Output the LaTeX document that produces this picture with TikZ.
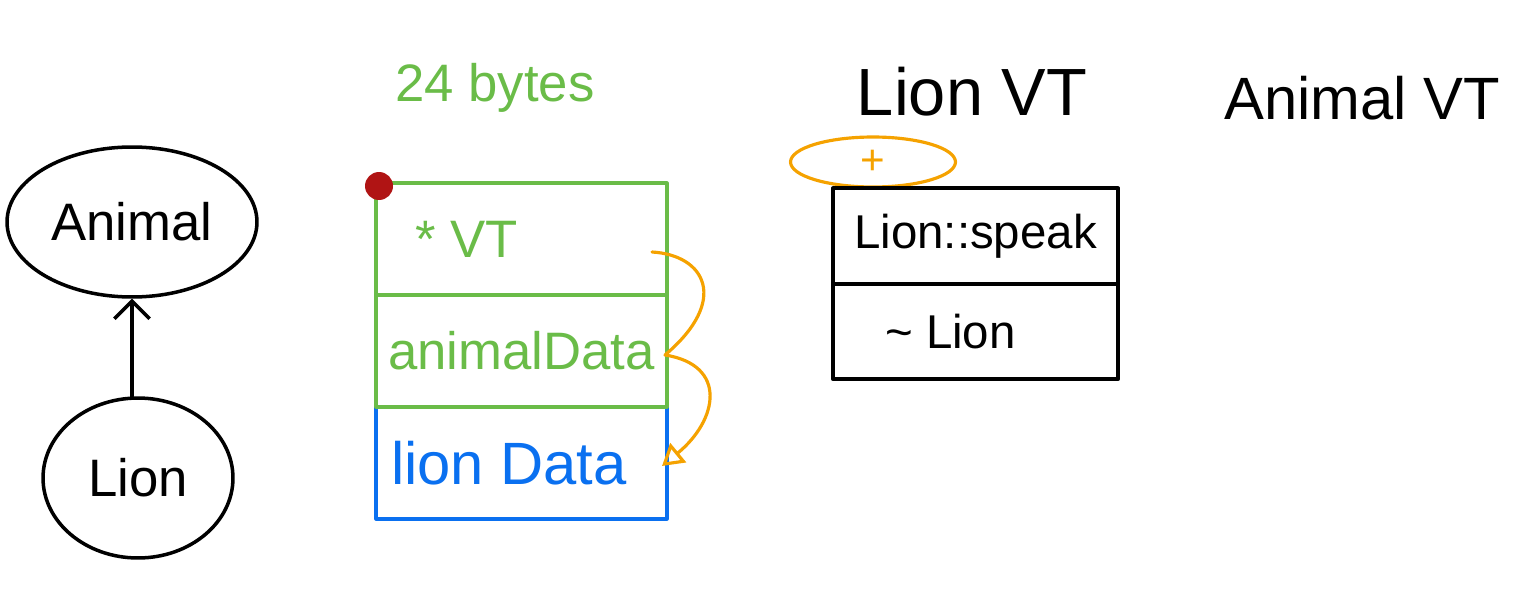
\documentclass[tikz,border=0pt]{standalone}
\usepackage{fontspec}
\setmainfont{Liberation Sans}
\usetikzlibrary{arrows.meta, shapes.geometric}

\definecolor{memgreen}{RGB}{106,188,72}
\definecolor{memblue}{RGB}{10,112,240}
\definecolor{ptrorange}{RGB}{245,162,0}
\definecolor{dotred}{RGB}{176,20,20}

\begin{document}
\begin{tikzpicture}[x=0.02cm, y=-0.02cm, line join=round, line cap=round,
	classnode/.style={draw, ellipse, line width=2pt, inner sep=0pt, font=\fontsize{30}{36}\selectfont},
	greencell/.style={draw=memgreen, text=memgreen, line width=1.8pt, minimum width=5.82cm, minimum height=2.24cm, inner sep=0pt, font=\fontsize{30}{36}\selectfont},
	bluecell/.style={greencell, draw=memblue, text=memblue, font=\fontsize{34}{40}\selectfont},
	vtcell/.style={draw, line width=2.2pt, minimum width=5.7cm, minimum height=1.91cm, inner sep=0pt, font=\fontsize{27}{32}\selectfont},
	title/.style={inner sep=0pt, font=\fontsize{36}{42}\selectfont}]
	
	\useasboundingbox (0,0) rectangle (1537,612);
	
	% Klassen
	\node[classnode, minimum width=5cm, minimum height=3cm] (animal) at (132, 222) {Animal};
	\node[classnode, minimum width=3.8cm, minimum height=3.2cm] (lion) at (138, 478) {Lion};
	\draw[-{Straight Barb[length=10pt, width=20pt]}, line width=2pt] (lion.north -| animal.south) -- (animal.south);
	
	% Speicherlayout Lion-Objekt
	\node[title, text=memgreen, font=\fontsize{30}{36}\selectfont] (size) at (495, 88) {24 bytes};
	\node[bluecell] (lioncell) at (521.5, 463) {\hspace{-0.5cm}lion Data};
	\node[greencell] (ptrcell) at (521.5, 239) {\hspace{-2.2cm}* VT};
	\node[greencell] (animalcell) at (521.5, 351) {animalData};
	\node[circle, fill=dotred, minimum size=0.56cm, inner sep=0pt] (start) at (379, 186) {};
	
	% Zeiger in die Daten
	\coordinate (ptrend) at (652, 252);
	\coordinate (animalend) at (665, 355);
	\coordinate (lionend) at (662, 466);
	\draw[ptrorange, line width=1.8pt, -{Triangle[open, length=12pt, width=14pt]}] (ptrend) .. controls (705, 255) and (730, 300) .. (animalend) .. controls (728, 365) and (718, 420) .. (lionend);
	
	% VTable von Lion
	\node[title, font=\fontsize{38}{44}\selectfont] (lionvt) at (972, 92) {Lion VT};
	\node[title, font=\fontsize{34}{40}\selectfont] (animalvt) at (1362, 98) {Animal VT};
	\node[draw=ptrorange, text=ptrorange, ellipse, line width=1.8pt, minimum width=3.3cm, minimum height=1cm, inner sep=0pt, font=\fontsize{24}{28}\selectfont] (offset) at (873, 162) {+};
	\node[vtcell] (speakcell) at (975.5, 236) {Lion::speak};
	\node[vtcell] (dtorcell) at (975.5, 331.5) {\hspace{-1cm}\~{} Lion};
\end{tikzpicture}
\end{document}
